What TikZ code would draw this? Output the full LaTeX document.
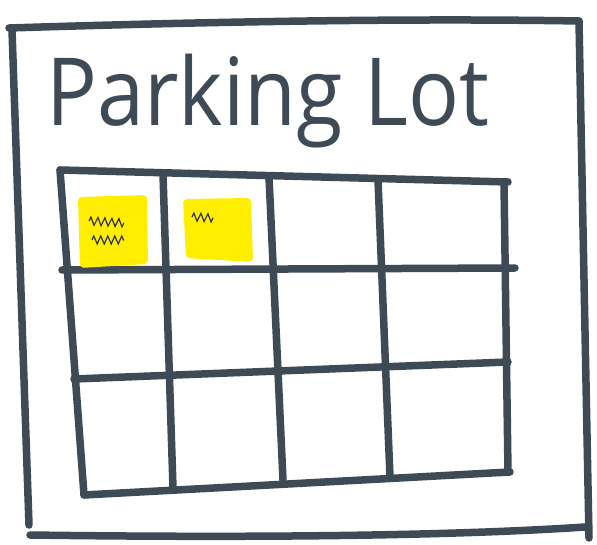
\documentclass[tikz,border=0pt]{standalone}
\usepackage{fontspec}
\setmainfont{Open Sans}
\usetikzlibrary{decorations.pathmorphing}

\definecolor{marker}{HTML}{3E4A56}
\definecolor{note}{HTML}{FFEE00}

\tikzset{
  pen/.style={draw=marker, line width=7.5pt, line cap=round, line join=round},
  sticky/.style={fill=note, rounded corners=4pt},
  scribble/.style={draw=black!80, line width=1.2pt, decorate,
    decoration={zigzag, segment length=7pt, amplitude=4pt}}
}

\begin{document}
\begin{tikzpicture}[x=1pt, y=-1pt]
    \useasboundingbox (0,0) rectangle (597,545);

    % 1. Khung ngoai
    \draw[pen] (9,28) .. controls (200,22) and (400,18) .. (579,21);
    \draw[pen] (579,21) -- (589,538);
    \draw[pen] (12,30) -- (29,525);
    \draw[pen] (30,535) .. controls (250,538) and (450,536) .. (585,527);

    % 2. Tieu de
    \node[text=marker, font=\fontsize{94}{94}\selectfont, anchor=base west,
      xscale=0.9, inner sep=0pt] (title) at (46,126) {Parking Lot};

    % 3. Luoi cho do xe (4 cot, 3 hang)
    \draw[pen] (60,170) -- (508,182);
    \draw[pen] (62,270) -- (515,268);
    \draw[pen] (74,379) -- (508,362);
    \draw[pen] (84,495) -- (510,472);
    \draw[pen] (60,170) -- (84,495);
    \draw[pen] (163,174) -- (173,488);
    \draw[pen] (269,177) -- (283,480);
    \draw[pen] (378,180) -- (390,477);
    \draw[pen] (504,182) -- (508,472);

    % 4. Giay nho mau vang
    \fill[sticky] (78,197) -- (147,195) -- (148,264) -- (80,268) -- cycle;
    \fill[sticky] (183,199) -- (251,198) -- (253,262) -- (186,258) -- cycle;

    % 5. Chu viet nguech ngoac
    \draw[scribble] (89,221) -- (124,223);
    \draw[scribble] (92,240) -- (124,240);
    \draw[scribble] (192,217) -- (213,218);

\end{tikzpicture}
\end{document}
